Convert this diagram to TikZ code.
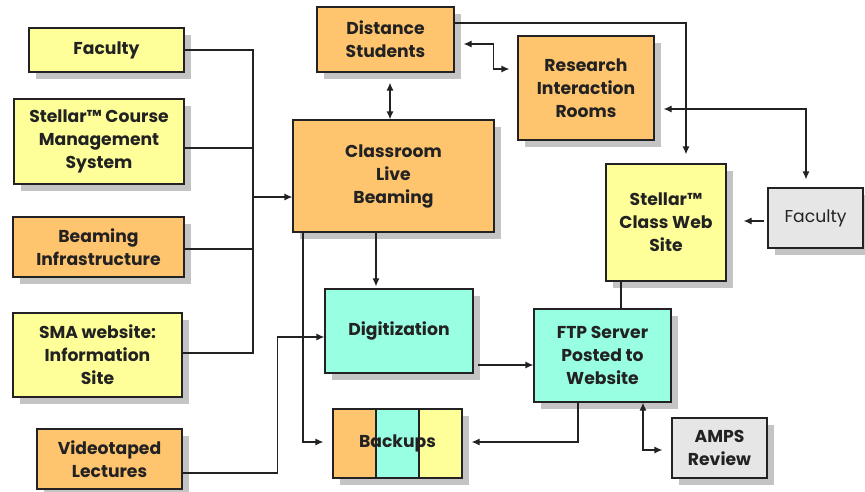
\documentclass[tikz,border=0pt]{standalone}
\usepackage{fontspec}
\setmainfont{Poppins}
\usetikzlibrary{shadows,arrows.meta}
\definecolor{ylw}{HTML}{FFFF99}
\definecolor{org}{HTML}{FFC46E}
\definecolor{aqua}{HTML}{99FFE2}
\definecolor{gry}{HTML}{E6E6E6}
\definecolor{shd}{HTML}{C4C4C4}
\definecolor{ink}{HTML}{222222}
\tikzset{
  box/.style={draw=ink, line width=1.2pt, align=center, inner sep=0pt,
    font=\fontsize{17.2}{23}\selectfont\bfseries, text=ink,
    drop shadow={shadow xshift=7pt, shadow yshift=-7pt, fill=shd, opacity=1}},
  conn/.style={draw=ink, line width=1.2pt},
  tip/.style={conn, -{Latex[length=8pt,width=7pt]}},
  tips/.style={conn, {Latex[length=8pt,width=7pt]}-{Latex[length=8pt,width=7pt]}}
}
\begin{document}
\begin{tikzpicture}[x=1pt,y=-1pt]
\useasboundingbox (0,0) rectangle (865,491);
% left column of sources
\node[box, fill=ylw, minimum width=155pt, minimum height=44pt] (facL) at (106.5,50) {Faculty};
\node[box, fill=ylw, minimum width=170pt, minimum height=85pt] (stellarC) at (99,141.5) {Stellar™ Course\\Management\\System};
\node[box, fill=org, minimum width=171pt, minimum height=60pt] (beamInf) at (98.5,247) {Beaming\\Infrastructure};
\node[box, fill=ylw, minimum width=169pt, minimum height=84pt] (sma) at (97.5,355) {SMA website:\\Information\\Site};
\node[box, fill=org, minimum width=145pt, minimum height=60pt] (video) at (109.5,459) {Videotaped\\Lectures};
% central column
\node[box, fill=org, minimum width=137pt, minimum height=65pt] (dist) at (385.5,39.5) {Distance\\Students};
\node[box, fill=org, minimum width=201pt, minimum height=112pt] (class) at (393.5,176) {Classroom\\Live\\Beaming};
\node[box, fill=org, minimum width=136pt, minimum height=104pt] (research) at (586,88) {Research\\Interaction\\Rooms};
\node[box, fill=aqua, minimum width=148pt, minimum height=84pt] (digit) at (399,331) {Digitization};
\node[box, fill=aqua, minimum width=129pt, minimum height=69pt,
  path picture={
    \fill[org] (path picture bounding box.north west) rectangle ([xshift=43pt]path picture bounding box.south west);
    \fill[ylw] ([xshift=-43pt]path picture bounding box.north east) rectangle (path picture bounding box.south east);
    \draw[ink, line width=1.2pt] ([xshift=43pt]path picture bounding box.north west) -- ([xshift=43pt]path picture bounding box.south west);
    \draw[ink, line width=1.2pt] ([xshift=-43pt]path picture bounding box.north east) -- ([xshift=-43pt]path picture bounding box.south east);
  }] (backups) at (397.5,443.5) {Backups};
% right column
\node[box, fill=ylw, minimum width=120pt, minimum height=117pt] (stellarW) at (666,222.5) {Stellar™\\Class Web\\Site};
\node[box, fill=gry, minimum width=95pt, minimum height=60pt, font=\fontsize{17.2}{23}\selectfont] (facR) at (815.5,218) {Faculty};
\node[box, fill=aqua, minimum width=137pt, minimum height=93pt] (ftp) at (602.5,355.5) {FTP Server\\Posted to\\Website};
\node[box, fill=gry, minimum width=95pt, minimum height=60pt] (amps) at (719.5,448) {AMPS\\Review};

% bus collecting the left-hand sources
\coordinate (bus) at (253,197);
\draw[conn] (facL.east) -| (bus);
\draw[conn] ([yshift=-6.5pt]stellarC.east) -| (bus);
\draw[conn] ([yshift=-2pt]beamInf.east) -| (bus);
\draw[conn] ([yshift=2pt]sma.east) -| (bus);
\draw[tip] (bus) -- (class.west |- bus);

% links around the classroom
\draw[tips] ([xshift=4.5pt,yshift=-10pt]dist.south) -- ([xshift=-3.5pt]class.north);
\draw[tips] ([xshift=9pt,yshift=-4.5pt]dist.east) -- ++(30,0) |- ([xshift=-8pt,yshift=19pt]research.west);
\draw[tip] ([yshift=16.5pt]dist.east) -| ([xshift=20pt,yshift=9pt]stellarW.north);
\draw[tips] ([xshift=9pt,yshift=-21pt]research.east) -| ([xshift=-9.5pt,yshift=8pt]facR.north);
\draw[tip] ([xshift=-3pt,yshift=-3pt]facR.west) -- ([xshift=17pt,yshift=1.5pt]stellarW.east);

% production chain
\draw[tip] ([xshift=-17.5pt]class.south) -- ([xshift=-23pt,yshift=2pt]digit.north);
\draw[tip] ([xshift=-90.5pt]class.south) |- ([xshift=-9pt,yshift=1.5pt]backups.west);
\draw[tip] ([yshift=-14pt]video.east) -- ++(95,0) |- ([yshift=-6pt]digit.west);
\draw[tip] ([xshift=4pt,yshift=-34pt]digit.east) -- ([yshift=-9.5pt]ftp.west);
\draw[conn] ([xshift=-45pt]stellarW.south) -- ([xshift=18.5pt]ftp.north);
\draw[tip] ([xshift=-24.5pt]ftp.south) |- ([xshift=9pt,yshift=1.5pt]backups.east);
\draw[tips] ([xshift=40.5pt]ftp.south) |- ([xshift=-9pt,yshift=-2pt]amps.west);
\end{tikzpicture}
\end{document}
